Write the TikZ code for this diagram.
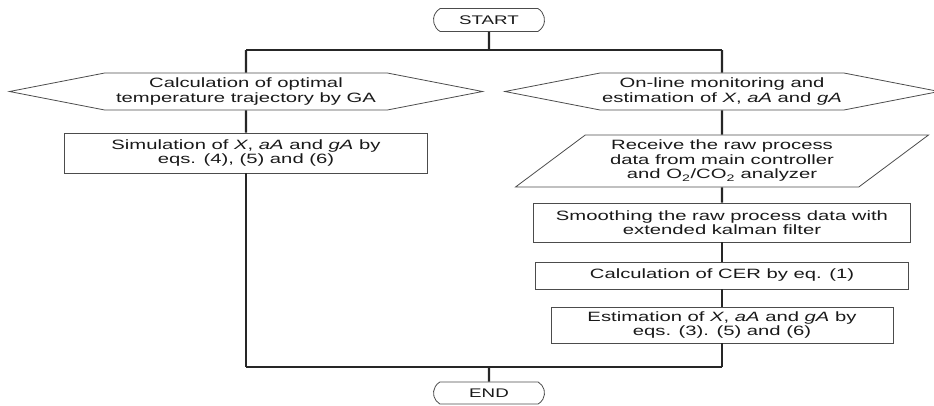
\documentclass[tikz,border=0pt]{standalone}
\usepackage{fontspec}
\setmainfont[FakeStretch=1.5]{Liberation Sans}
\usetikzlibrary{shapes.misc,shapes.symbols,shapes.geometric}

\begin{document}
\begin{tikzpicture}[x=1pt,y=-1pt]
	\tikzstyle{box}=[draw=black!70,line width=0.8pt,align=center,inner sep=2pt,text=black!90,font=\fontsize{13.5}{14.5}\selectfont]
	\tikzstyle{proc}=[box,shape=rectangle]
	\tikzstyle{term}=[box,shape=rounded rectangle,rounded rectangle arc length=120,minimum width=115pt,minimum height=23pt,font=\fontsize{12.5}{13}\selectfont]
	\tikzstyle{prep}=[box,shape=signal,signal to=west and east,signal pointer angle=22,minimum height=37pt,inner ysep=1pt]
	\tikzstyle{io}=[box,shape=trapezium,trapezium left angle=32,trapezium right angle=148,trapezium stretches body,minimum height=52pt,inner ysep=1pt]
	\tikzstyle{link}=[line width=2.2pt,draw=black!85]

	\useasboundingbox (0,0) rectangle (934,405);

	\node[term](start) at (489,20){START};

	\coordinate (tl) at (246,50);
	\coordinate (tr) at (722,50);

	\node[prep,minimum width=473pt](ga) at (246,91.5){Calculation of optimal\\temperature trajectory by GA};
	\node[proc,minimum width=363pt,minimum height=40pt](sim) at (246,153){Simulation of \textit{X}, \textit{aA} and \textit{gA} by\\eqs. (4), (5) and (6)};

	\node[prep,minimum width=424pt](mon) at (722,91.5){On-line monitoring and\\estimation of \textit{X}, \textit{aA} and \textit{gA}};
	\node[io,minimum width=413pt](recv) at (722,161){Receive the raw process\\data from main controller\\and O\textsubscript{2}/CO\textsubscript{2} analyzer};
	\node[proc,minimum width=377pt,minimum height=39pt](smooth) at (722,222.5){Smoothing the raw process data with\\extended kalman filter};
	\node[proc,minimum width=373pt,minimum height=27pt](cer) at (722,275.5){Calculation of CER by eq. (1)};
	\node[proc,minimum width=342pt,minimum height=36pt](est) at (722,325){Estimation of \textit{X}, \textit{aA} and \textit{gA} by\\eqs. (3). (5) and (6)};

	\coordinate (bl) at (246,367);
	\coordinate (br) at (722,367);

	\node[term,minimum height=22pt](end) at (489,393){END};

	\draw[link] (start) -- (start |- tl);
	\draw[link] (tl) -- (tr);
	\draw[link] (tl) -- (ga);
	\draw[link] (tr) -- (mon);

	\draw[link] (ga) -- (sim);
	\draw[link] (sim) -- (bl);

	\draw[link] (mon) -- (recv);
	\draw[link] (recv) -- (smooth);
	\draw[link] (smooth) -- (cer);
	\draw[link] (cer) -- (est);
	\draw[link] (est) -- (br);

	\draw[link] (br) -- (bl);
	\draw[link] (end |- bl) -- (end);

\end{tikzpicture}
\end{document}
